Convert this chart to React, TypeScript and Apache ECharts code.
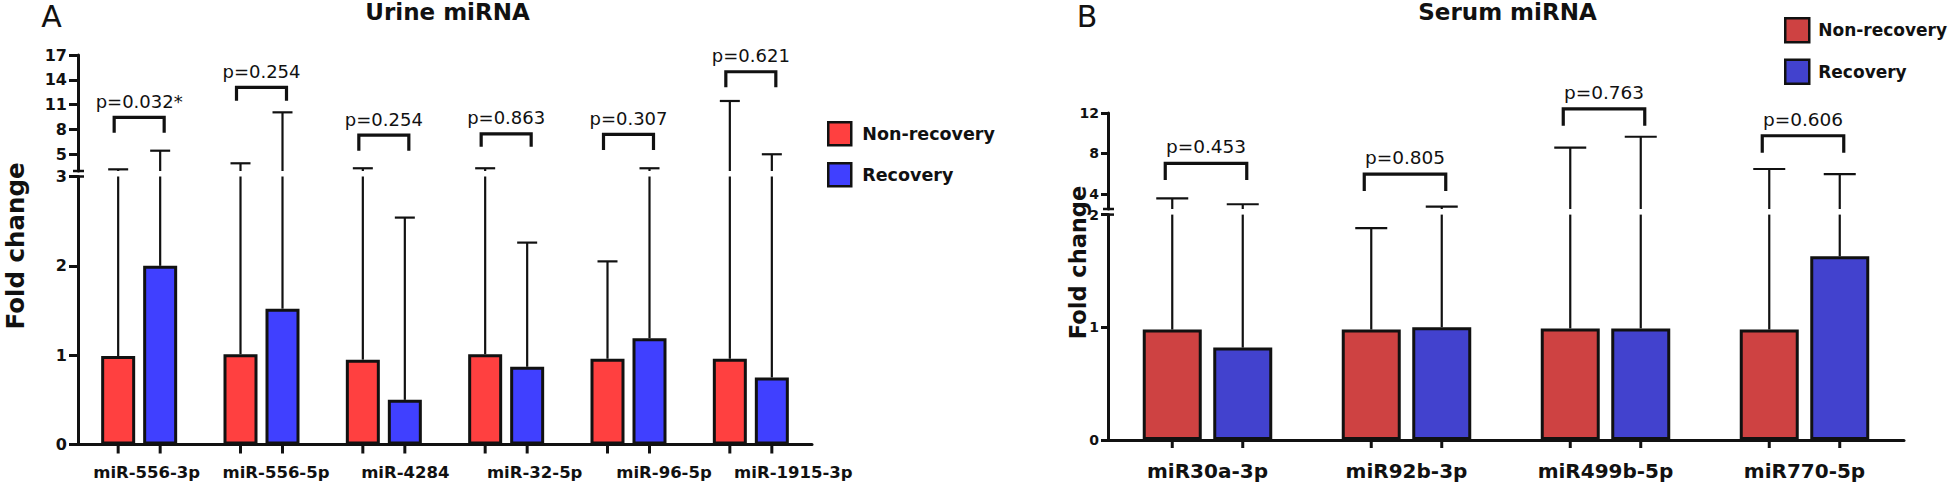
import React, { useEffect, useRef } from 'react';
import * as echarts from 'echarts';

// ---------- Data: Panel A (Urine miRNA) ----------
const A_CATS = ['miR-556-3p', 'miR-556-5p', 'miR-4284', 'miR-32-5p', 'miR-96-5p', 'miR-1915-3p'];
const A_NONREC = [0.99, 1.01, 0.95, 1.01, 0.96, 0.96];
const A_REC = [2.0, 1.52, 0.5, 0.87, 1.19, 0.75];
const A_NONREC_UPPER = [3.2, 3.93, 3.33, 3.33, 2.05, 11.45];
const A_REC_UPPER = [5.45, 10.08, 2.54, 2.26, 3.33, 5.02];
const A_PVALUES = ['p=0.032*', 'p=0.254', 'p=0.254', 'p=0.863', 'p=0.307', 'p=0.621'];
const A_BRACKET_TOP = [9.48, 13.1, 7.34, 7.47, 7.43, 14.98];
const A_BRACKET_LEG = [7.62, 11.48, 5.45, 5.93, 5.53, 13.1];
const A_LOWER_TICKS = [0, 1, 2, 3];
const A_UPPER_TICKS = [5, 8, 11, 14, 17];

// ---------- Data: Panel B (Serum miRNA) ----------
const B_CATS = ['miR30a-3p', 'miR92b-3p', 'miR499b-5p', 'miR770-5p'];
const B_NONREC = [0.98, 0.98, 0.99, 0.98];
const B_REC = [0.82, 1.0, 0.99, 1.63];
const B_NONREC_UPPER = [3.56, 1.88, 8.57, 6.46];
const B_REC_UPPER = [2.97, 2.73, 9.65, 5.96];
const B_PVALUES = ['p=0.453', 'p=0.805', 'p=0.763', 'p=0.606'];
const B_BRACKET_TOP = [7.02, 5.96, 12.4, 9.75];
const B_BRACKET_LEG = [5.37, 4.28, 10.74, 8.07];
const B_LOWER_TICKS = [0, 1, 2];
const B_UPPER_TICKS = [4, 8, 12];

const SERIES_NAMES = ['Non-recovery', 'Recovery'];

// ---------- Styles / layout ----------
const FONT = 'DejaVu Sans';
const INK = '#111111';
const A_RED = '#FF4040';
const A_BLUE = '#4040FF';
const B_RED = '#CE4242';
const B_BLUE = '#4242CE';

const A = { x0: 78, w: 734, upTop: 55, upBot: 171, lowTop: 176.5, lowBot: 444.5, upMin: 3, upMax: 17, lowMax: 3 };
const B = { x0: 1108, w: 796, upTop: 113, upBot: 209, lowTop: 214.6, lowBot: 440, upMin: 2.5, upMax: 12, lowMax: 2 };
const A_LABEL_GRID = { x0: 82, w: 776 };

const A_BAR_W = 34, A_BAR_GAP = 8; // rect width and gap between rects
const B_BAR_W = 59, B_BAR_GAP = 11.5;
const A_OFF = (A_BAR_W + A_BAR_GAP) / 2;
const B_OFF = (B_BAR_W + B_BAR_GAP) / 2;

function whiskerRender(offset: number, cap: number, segMin: number, segMax: number, fromMean: boolean) {
  return (params: any, api: any) => {
    const i = api.value(0);
    const mean = api.value(1);
    const top = api.value(2);
    const start = fromMean ? mean : segMin;
    if (top <= segMin && !fromMean) return null;
    const end = Math.min(top, segMax);
    if (end <= start) return null;
    const p1 = api.coord([i, start]);
    const p2 = api.coord([i, end]);
    const x = p1[0] + offset;
    const children: any[] = [
      { type: 'line', shape: { x1: x, y1: p1[1], x2: x, y2: p2[1] }, style: { stroke: INK, lineWidth: 2.2 } },
    ];
    if (top <= segMax) {
      children.push({ type: 'line', shape: { x1: x - cap, y1: p2[1], x2: x + cap, y2: p2[1] }, style: { stroke: INK, lineWidth: 2.2 } });
    }
    return { type: 'group', children };
  };
}

function bracketRender(labels: string[], off: number, extL: number, extR: number, fontSize: number, textGap: number) {
  return (params: any, api: any) => {
    const i = api.value(0);
    const t = api.coord([i, api.value(1)]);
    const l = api.coord([i, api.value(2)]);
    const xl = t[0] - off - extL;
    const xr = t[0] + off + extR;
    return {
      type: 'group',
      children: [
        {
          type: 'polyline',
          shape: { points: [[xl, l[1]], [xl, t[1]], [xr, t[1]], [xr, l[1]]] },
          style: { stroke: INK, lineWidth: 3.2, fill: 'none' },
        },
        {
          type: 'text',
          x: (xl + xr) / 2,
          y: t[1] - textGap,
          style: {
            text: labels[i],
            fill: INK,
            fontFamily: FONT,
            fontSize,
            fontWeight: 'normal',
            align: 'center',
            verticalAlign: 'middle',
            textAlign: 'center',
            textVerticalAlign: 'middle',
          },
        },
      ],
    };
  };
}

function tickRender(off: number, len: number) {
  return (params: any, api: any) => {
    const i = api.value(0);
    const p = api.coord([i, 0]);
    return {
      type: 'group',
      children: [-off, off].map((d) => ({
        type: 'line',
        shape: { x1: p[0] + d, y1: p[1], x2: p[0] + d, y2: p[1] + len },
        style: { stroke: INK, lineWidth: 3 },
      })),
    };
  };
}

function text(x: number, y: number, s: string, size: number, weight: string, rotation = 0) {
  return {
    type: 'text',
    x,
    y,
    rotation,
    style: {
      text: s,
      fill: INK,
      fontFamily: FONT,
      fontSize: size,
      fontWeight: weight,
      align: 'center',
      verticalAlign: 'middle',
      textAlign: 'center',
      textVerticalAlign: 'middle',
    },
  };
}

function hline(x1: number, x2: number, y: number) {
  return { type: 'line', shape: { x1, y1: y, x2, y2: y }, style: { stroke: INK, lineWidth: 2.5 } };
}

function valueAxis(gridIndex: number, min: number, max: number, ticks: number[], fontSize: number, tickLen: number, margin: number) {
  return {
    type: 'value',
    gridIndex,
    min,
    max,
    axisLine: { show: true, lineStyle: { color: INK, width: 3 } },
    axisTick: { show: true, length: tickLen, customValues: ticks, lineStyle: { color: INK, width: 3 } },
    axisLabel: {
      show: true,
      customValues: ticks,
      fontFamily: FONT,
      fontWeight: 'bold',
      fontSize,
      color: INK,
      margin,
    },
    splitLine: { show: false },
  };
}

function buildOption(): any {
  const aIdx = A_CATS.map((_, i) => i);
  const bIdx = B_CATS.map((_, i) => i);
  const grid = (x0: number, w: number, top: number, bot: number) => ({
    left: x0,
    top,
    width: w,
    height: bot - top,
    containLabel: false,
    outerBoundsMode: 'none',
  });

  return {
    animation: false,
    backgroundColor: '#ffffff',
    grid: [
      grid(A.x0, A.w, A.lowTop, A.lowBot), // 0 A lower
      grid(A.x0, A.w, A.upTop, A.upBot), // 1 A upper
      grid(A_LABEL_GRID.x0, A_LABEL_GRID.w, A.lowTop, A.lowBot), // 2 A labels
      grid(B.x0, B.w, B.lowTop, B.lowBot), // 3 B lower
      grid(B.x0, B.w, B.upTop, B.upBot), // 4 B upper
    ],
    xAxis: [
      {
        type: 'category', gridIndex: 0, data: A_CATS,
        axisLine: { show: true, onZero: false, lineStyle: { color: INK, width: 3 } },
        axisTick: { show: false }, axisLabel: { show: false },
      },
      { type: 'category', gridIndex: 1, data: A_CATS, show: false },
      {
        type: 'category', gridIndex: 2, data: A_CATS,
        axisLine: { show: false }, axisTick: { show: false },
        axisLabel: { show: true, interval: 0, fontFamily: FONT, fontWeight: 'bold', fontSize: 16.5, color: INK, margin: 19 },
      },
      {
        type: 'category', gridIndex: 3, data: B_CATS,
        axisLine: { show: true, onZero: false, lineStyle: { color: INK, width: 3 } },
        axisTick: { show: false },
        axisLabel: { show: true, interval: 0, fontFamily: FONT, fontWeight: 'bold', fontSize: 20, color: INK, margin: 21 },
      },
      { type: 'category', gridIndex: 4, data: B_CATS, show: false },
    ],
    yAxis: [
      valueAxis(0, 0, A.lowMax, A_LOWER_TICKS, 16, 9, 11),
      valueAxis(1, A.upMin, A.upMax, A_UPPER_TICKS, 16, 9, 11),
      { type: 'value', gridIndex: 2, show: false, min: 0, max: 1 },
      valueAxis(3, 0, B.lowMax, B_LOWER_TICKS, 14, 7, 9),
      valueAxis(4, B.upMin, B.upMax, B_UPPER_TICKS, 14, 7, 9),
    ],
    legend: [
      {
        orient: 'vertical', left: 822, top: 116, itemWidth: 23, itemHeight: 23, itemGap: 15.5,
        icon: 'rect', selectedMode: false,
        data: [
          { name: SERIES_NAMES[0], itemStyle: { color: A_RED, borderColor: INK, borderWidth: 2.5 } },
          { name: SERIES_NAMES[1], itemStyle: { color: A_BLUE, borderColor: INK, borderWidth: 2.5 } },
        ],
        textStyle: { fontFamily: FONT, fontWeight: 'bold', fontSize: 17.5, color: INK, padding: [0, 0, 0, 6] },
      },
      {
        orient: 'vertical', left: 1779, top: 12, itemWidth: 24, itemHeight: 24, itemGap: 15,
        icon: 'rect', selectedMode: false,
        data: [
          { name: SERIES_NAMES[0], itemStyle: { color: B_RED, borderColor: INK, borderWidth: 2.5 } },
          { name: SERIES_NAMES[1], itemStyle: { color: B_BLUE, borderColor: INK, borderWidth: 2.5 } },
        ],
        textStyle: { fontFamily: FONT, fontWeight: 'bold', fontSize: 17, color: INK, padding: [0, 0, 0, 4] },
      },
    ],
    series: [
      // ----- Panel A bars -----
      {
        type: 'bar', name: SERIES_NAMES[0], xAxisIndex: 0, yAxisIndex: 0, data: A_NONREC,
        barWidth: A_BAR_W, barGap: `${(A_BAR_GAP / A_BAR_W) * 100}%`, z: 3,
        itemStyle: { color: A_RED, borderColor: INK, borderWidth: 3 },
      },
      {
        type: 'bar', name: SERIES_NAMES[1], xAxisIndex: 0, yAxisIndex: 0, data: A_REC,
        barWidth: A_BAR_W, barGap: `${(A_BAR_GAP / A_BAR_W) * 100}%`, z: 3,
        itemStyle: { color: A_BLUE, borderColor: INK, borderWidth: 3 },
      },
      // whiskers A lower
      { type: 'custom', xAxisIndex: 0, yAxisIndex: 0, z: 2, data: aIdx.map((i) => [i, A_NONREC[i], A_NONREC_UPPER[i]]), renderItem: whiskerRender(-A_OFF, 10, 0, A.lowMax, true) },
      { type: 'custom', xAxisIndex: 0, yAxisIndex: 0, z: 2, data: aIdx.map((i) => [i, A_REC[i], A_REC_UPPER[i]]), renderItem: whiskerRender(A_OFF, 10, 0, A.lowMax, true) },
      // whiskers A upper
      { type: 'custom', xAxisIndex: 1, yAxisIndex: 1, z: 2, data: aIdx.map((i) => [i, A_NONREC[i], A_NONREC_UPPER[i]]), renderItem: whiskerRender(-A_OFF, 10, A.upMin, A.upMax, false) },
      { type: 'custom', xAxisIndex: 1, yAxisIndex: 1, z: 2, data: aIdx.map((i) => [i, A_REC[i], A_REC_UPPER[i]]), renderItem: whiskerRender(A_OFF, 10, A.upMin, A.upMax, false) },
      // brackets A
      { type: 'custom', xAxisIndex: 1, yAxisIndex: 1, z: 4, data: aIdx.map((i) => [i, A_BRACKET_TOP[i], A_BRACKET_LEG[i]]), renderItem: bracketRender(A_PVALUES, A_OFF, 4, 4, 18, 16) },
      // x ticks A
      { type: 'custom', xAxisIndex: 0, yAxisIndex: 0, z: 4, data: aIdx.map((i) => [i, 0]), renderItem: tickRender(A_OFF, 9) },

      // ----- Panel B bars -----
      {
        type: 'bar', name: SERIES_NAMES[0], xAxisIndex: 3, yAxisIndex: 3, data: B_NONREC,
        barWidth: B_BAR_W, barGap: `${(B_BAR_GAP / B_BAR_W) * 100}%`, z: 3,
        itemStyle: { color: B_RED, borderColor: INK, borderWidth: 3 },
      },
      {
        type: 'bar', name: SERIES_NAMES[1], xAxisIndex: 3, yAxisIndex: 3, data: B_REC,
        barWidth: B_BAR_W, barGap: `${(B_BAR_GAP / B_BAR_W) * 100}%`, z: 3,
        itemStyle: { color: B_BLUE, borderColor: INK, borderWidth: 3 },
      },
      { type: 'custom', xAxisIndex: 3, yAxisIndex: 3, z: 2, data: bIdx.map((i) => [i, B_NONREC[i], B_NONREC_UPPER[i]]), renderItem: whiskerRender(-B_OFF, 16, 0, B.lowMax, true) },
      { type: 'custom', xAxisIndex: 3, yAxisIndex: 3, z: 2, data: bIdx.map((i) => [i, B_REC[i], B_REC_UPPER[i]]), renderItem: whiskerRender(B_OFF, 16, 0, B.lowMax, true) },
      { type: 'custom', xAxisIndex: 4, yAxisIndex: 4, z: 2, data: bIdx.map((i) => [i, B_NONREC[i], B_NONREC_UPPER[i]]), renderItem: whiskerRender(-B_OFF, 16, B.upMin, B.upMax, false) },
      { type: 'custom', xAxisIndex: 4, yAxisIndex: 4, z: 2, data: bIdx.map((i) => [i, B_REC[i], B_REC_UPPER[i]]), renderItem: whiskerRender(B_OFF, 16, B.upMin, B.upMax, false) },
      { type: 'custom', xAxisIndex: 4, yAxisIndex: 4, z: 4, data: bIdx.map((i) => [i, B_BRACKET_TOP[i], B_BRACKET_LEG[i]]), renderItem: bracketRender(B_PVALUES, B_OFF, 7, 4, 18.5, 16.5) },
      { type: 'custom', xAxisIndex: 3, yAxisIndex: 3, z: 4, data: bIdx.map((i) => [i, 0]), renderItem: tickRender(B_OFF, 8) },
    ],
    graphic: [
      text(51.5, 16, 'A', 30, 'normal'),
      text(1087, 16, 'B', 30, 'normal'),
      text(447.5, 12, 'Urine miRNA', 23, 'bold'),
      text(1507.5, 12, 'Serum miRNA', 23, 'bold'),
      text(15, 246, 'Fold change', 24.5, 'bold', Math.PI / 2),
      text(1078, 262.5, 'Fold change', 22.5, 'bold', Math.PI / 2),
      hline(A.x0 - 5, A.x0 + 6, A.upBot),
      hline(A.x0 - 5, A.x0 + 6, A.lowTop),
      hline(B.x0 - 5, B.x0 + 6, B.upBot),
      hline(B.x0 - 5, B.x0 + 6, B.lowTop),
    ],
  };
}

export default function App() {
  const ref = useRef<HTMLDivElement>(null);
  useEffect(() => {
    if (!ref.current) return;
    const chart = echarts.init(ref.current, null, { renderer: 'svg' });
    chart.setOption(buildOption());
    return () => chart.dispose();
  }, []);
  return (
    <div
      ref={ref}
      style={{ position: 'absolute', left: 0, top: 0, width: 1960, height: 483, background: '#ffffff' }}
    />
  );
}
